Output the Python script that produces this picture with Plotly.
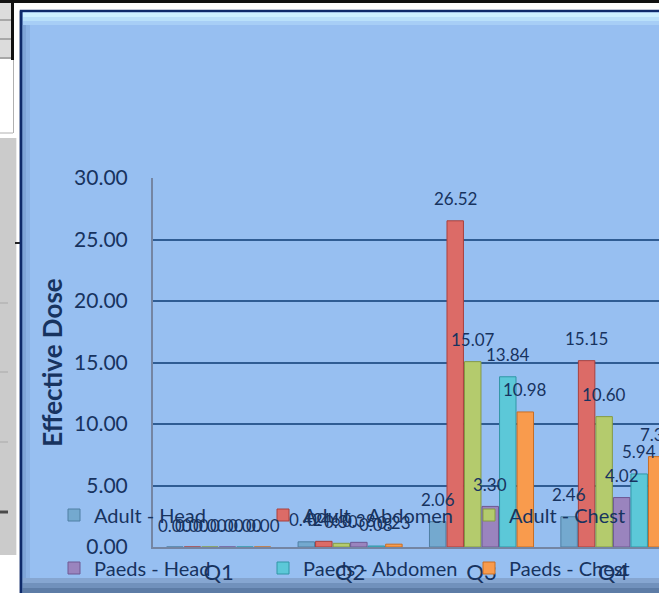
import plotly.graph_objects as go

# ---- data -------------------------------------------------------------
quarters = ["Q1", "Q2", "Q3", "Q4"]
series_names = ["Adult - Head", "Adult - Abdomen", "Adult - Chest",
                "Paeds - Head", "Paeds - Abdomen", "Paeds - Chest"]
adult_head = [0.00, 0.42, 2.06, 2.46]
adult_abdomen = [0.00, 0.46, 26.52, 15.15]
adult_chest = [0.00, 0.30, 15.07, 10.60]
paeds_head = [0.00, 0.38, 3.30, 4.02]
paeds_abdomen = [0.00, 0.08, 13.84, 5.94]
paeds_chest = [0.00, 0.23, 10.98, 7.35]
y_ticks = [0, 5, 10, 15, 20, 25, 30]

series_values = [adult_head, adult_abdomen, adult_chest,
                 paeds_head, paeds_abdomen, paeds_chest]

# ---- styling ----------------------------------------------------------
W, H = 659, 593
M_L, M_R, M_T, M_B = 153, 0, 178, 46
PW, PH = W - M_L - M_R, H - M_T - M_B
NAVY = "#17335F"
FONT = "Lato"
fills = ["#74A9CF", "#DC6B67", "#B4CB6D", "#9A84BE", "#5CC8D8", "#F99B4D"]
edges = ["#4F7FA3", "#A9403D", "#849A45", "#6E5893", "#3196A6", "#C96E24"]
BARGAP = 0.2
X_RANGE = [-0.5, -0.5 + PW / 131.4]


def px_x(x):
    return (x - M_L) / PW


def px_y(y):
    return (H - M_B - y) / PH


fig = go.Figure()

legend_keys = ["legend", "legend2", "legend3", "legend4", "legend5", "legend6"]
for name, vals, fc, ec, lk in zip(series_names, series_values, fills, edges, legend_keys):
    fig.add_trace(go.Bar(
        name=name, x=quarters, y=vals,
        marker=dict(color=fc, line=dict(color=ec, width=1)),
        legend=lk,
    ))

# value labels above each bar
n = len(series_values)
bar_w = (1 - BARGAP) / n
annotations = []
for j, vals in enumerate(series_values):
    for i, v in enumerate(vals):
        annotations.append(dict(
            x=i + (j - (n - 1) / 2) * bar_w, y=v, xref="x", yref="y",
            text=f"{v:.2f}", showarrow=False, yshift=22, yanchor="middle",
            font=dict(family=FONT, size=17, color=NAVY),
        ))

# chart-area frame and surroundings
shapes = []


def rect(x0, y0, x1, y1, fill, line=None, lw=0):
    shapes.append(dict(
        type="rect", xref="paper", yref="paper", layer="below",
        x0=px_x(x0), x1=px_x(x1), y0=px_y(y0), y1=px_y(y1),
        fillcolor=fill, line=dict(color=line or fill, width=lw),
    ))


def hline(x0, x1, y, color, lw):
    shapes.append(dict(
        type="line", xref="paper", yref="paper", layer="below",
        x0=px_x(x0), x1=px_x(x1), y0=px_y(y), y1=px_y(y),
        line=dict(color=color, width=lw),
    ))


def vline(x, y0, y1, color, lw):
    shapes.append(dict(
        type="line", xref="paper", yref="paper", layer="below",
        x0=px_x(x), x1=px_x(x), y0=px_y(y0), y1=px_y(y1),
        line=dict(color=color, width=lw),
    ))


# worksheet bits around the chart
rect(0, 0, 11, 59, "#DCDCDC")
for yy in (20, 39, 58):
    hline(0, 11, yy, "#A8A8A8", 2)
vline(12.5, 0, 60, "#111111", 3)
vline(13.5, 60, 133, "#B0B0B0", 1)
hline(0, 13, 133, "#B0B0B0", 1)
rect(0, 138, 16, 555, "#CBCBCB")
vline(16.5, 138, 555, "#EDEDED", 1)
for yy in (303, 372, 442):
    hline(0, 8, yy, "#A9A9A9", 1)
hline(0, 8, 512, "#4A4A4A", 3)
hline(15, 20, 243, "#222222", 2)
hline(0, W, 1.5, "#111111", 3)

# chart area with bevelled edges
rect(21, 11, W + 20, H + 20, "#97BFF1", "#0E2A6A", 2.5)
rect(23, 12.5, W + 10, 17, "#CDF0FF")
rect(23, 17, W + 10, 21, "#B9E0FA")
rect(23, 21, W + 10, 25, "#A7CEF6")
rect(22.5, 25, 26, H - 15, "#7FA5D8")
rect(26, 25, 30, H - 15, "#8BB2E5")
rect(22.5, H - 15, W + 10, H - 10, "#86A6D1")
rect(22.5, H - 10, W + 10, H - 5, "#7191BC")
rect(22.5, H - 5, W + 10, H + 5, "#5D7CA6")
vline(21, 11, H, "#0E2A6A", 2.5)

# one legend box per series, laid out in two rows of three
legend_cols = [94, 303, 509]
legend_rows = [515, 568]
legend_layout = {}
for k, lk in enumerate(legend_keys):
    row, col = divmod(k, 3)
    legend_layout[lk] = dict(
        x=px_x(legend_cols[col] - 40), xanchor="left",
        y=px_y(legend_rows[row]), yanchor="middle",
        bgcolor="rgba(0,0,0,0)", borderwidth=0,
        font=dict(family=FONT, size=20, color=NAVY),
    )

fig.update_layout(
    width=W, height=H,
    margin=dict(l=M_L, r=M_R, t=M_T, b=M_B, pad=0),
    paper_bgcolor="white",
    plot_bgcolor="rgba(0,0,0,0)",
    barmode="group", bargap=BARGAP, bargroupgap=0.06,
    showlegend=True,
    annotations=annotations,
    shapes=shapes,
    xaxis=dict(
        range=X_RANGE, showgrid=False, zeroline=False,
        showline=True, linecolor="#7485A3", linewidth=2,
        tickfont=dict(family=FONT, size=22, color=NAVY),
        ticks="", ticklabelstandoff=5,
    ),
    yaxis=dict(
        range=[0, 30], tickvals=y_ticks, tickformat=".2f",
        showgrid=True, gridcolor="#2F5C93", gridwidth=2,
        zeroline=False, showline=True, linecolor="#7485A3", linewidth=2,
        tickfont=dict(family=FONT, size=21, color=NAVY),
        ticks="", ticklabelstandoff=19,
        title=dict(text="Effective Dose", standoff=4,
                   font=dict(family=FONT, size=26, color=NAVY, weight="bold")),
    ),
    **legend_layout,
)

fig.write_html("out.html")
